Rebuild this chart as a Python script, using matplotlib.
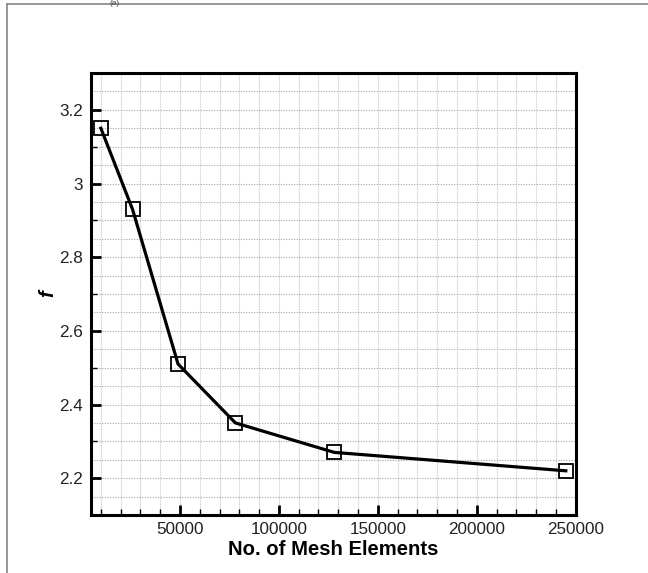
import matplotlib
matplotlib.use("Agg")
import matplotlib.pyplot as plt
from matplotlib.ticker import MultipleLocator, FuncFormatter
from matplotlib.lines import Line2D

plt.rcParams['font.family'] = ['Liberation Sans', 'DejaVu Sans']

mesh_elements = [10000, 26000, 49000, 78000, 128000, 245000]
f_values = [3.15, 2.93, 2.51, 2.35, 2.27, 2.22]
x_ticks = [50000, 100000, 150000, 200000, 250000]
y_ticks = [2.2, 2.4, 2.6, 2.8, 3.0, 3.2]

fig = plt.figure(figsize=(6.48, 5.73), dpi=100)
ax = fig.add_axes([0.1404, 0.1012, 0.748, 0.7714])

# grid lines
for gx in range(10000, 250001, 10000):
    ax.axvline(gx, color='#c4c4c4', lw=0.8, ls=(0, (1.2, 1.2)), zorder=0)
gy = 2.15
while gy < 3.3:
    ax.axhline(gy, color='#b0b0b0', lw=0.8, ls=(0, (1.2, 1.2)), zorder=0)
    gy += 0.05

ax.plot(mesh_elements, f_values, color='black', lw=2.3, zorder=3)
ax.plot(mesh_elements, f_values, ls='none', marker='s', ms=10, mfc='none',
        mec='black', mew=1.3, zorder=4)

ax.set_xlim(5000, 250000)
ax.set_ylim(2.1, 3.3)
ax.set_xticks(x_ticks)
ax.set_yticks(y_ticks)
ax.xaxis.set_minor_locator(MultipleLocator(10000))
ax.yaxis.set_minor_locator(MultipleLocator(0.1))
ax.yaxis.set_major_formatter(FuncFormatter(lambda v, p: '%g' % round(v, 2)))

ax.tick_params(which='both', direction='in', top=False, right=False, colors='black',
               labelsize=12.3, labelcolor='#222222')
ax.tick_params(which='major', length=7, width=2)
ax.tick_params(which='minor', length=4, width=1)
ax.tick_params(axis='x', pad=5)
ax.tick_params(axis='y', pad=6)

for s in ax.spines.values():
    s.set_linewidth(2.2)
    s.set_color('black')

ax.set_xlabel('No. of Mesh Elements', fontsize=14.6, fontweight='bold', labelpad=2)
ax.set_ylabel('f', fontsize=14.6, fontweight='bold', style='italic', labelpad=1)

# outer frame (partial)
fig.add_artist(Line2D([7/648, 7/648], [0, 1 - 4/573], transform=fig.transFigure,
                      color='#888888', lw=1.2))
fig.add_artist(Line2D([7/648, 1], [1 - 4/573, 1 - 4/573], transform=fig.transFigure,
                      color='#888888', lw=1.2))
fig.text(115/648, 1, '(a)', fontsize=6, ha='center', va='top', color='#444444')

fig.savefig('out.png', dpi=100)
